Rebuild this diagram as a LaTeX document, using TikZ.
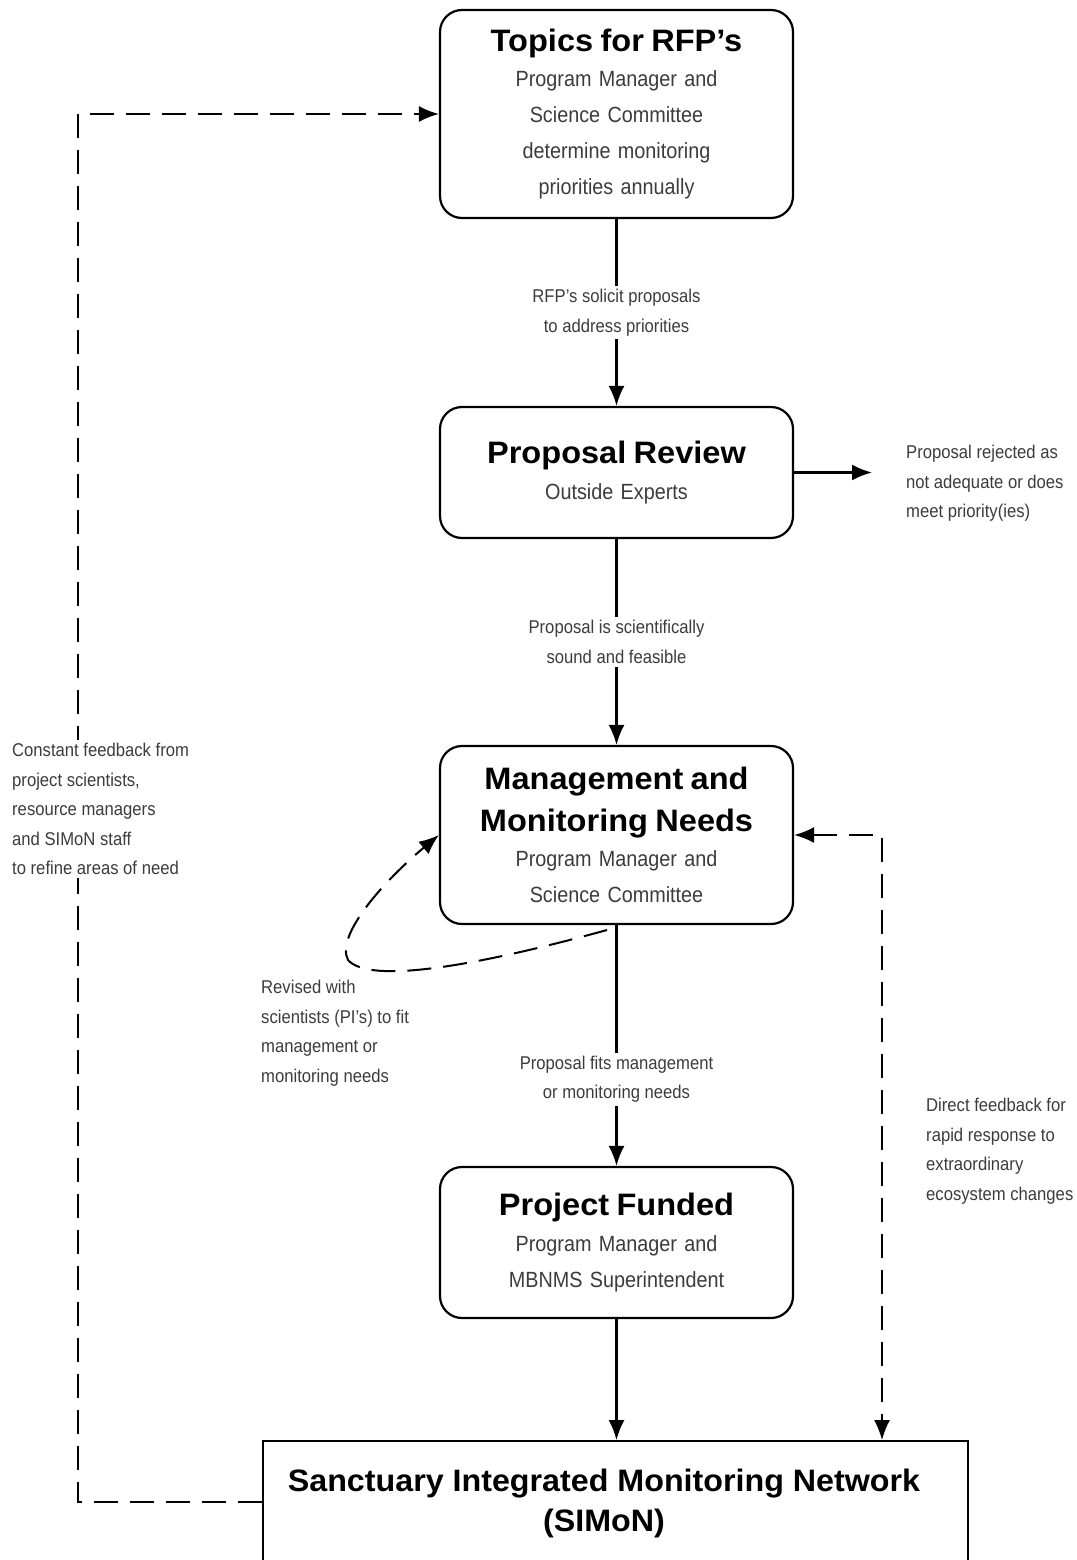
\documentclass[tikz,border=0pt]{standalone}
\usepackage{fontspec}
\setmainfont{Liberation Sans}
\newfontfamily\condf[FakeStretch=0.9]{Liberation Sans}
\newfontfamily\titlef[FakeStretch=1.05]{Liberation Sans Bold}
\newfontfamily\simonf[FakeStretch=1.04]{Liberation Sans Bold}
\usetikzlibrary{arrows.meta,calc}
\definecolor{bodygray}{RGB}{60,60,60}
\newcommand\bodyfnt{\condf\fontsize{22}{36}\selectfont}
\newcommand\labfnt{\condf\fontsize{18.5}{29.5}\selectfont}
\newcommand\ttl[1]{{\color{black}\titlef\fontsize{31}{36}\selectfont #1}}
\newcommand\sttl[1]{{\color{black}\simonf\fontsize{31}{36}\selectfont #1}}
\begin{document}
\begin{tikzpicture}[x=1pt,y=-1pt,
  box/.style={draw, line width=2.2pt, rounded corners=22pt, minimum width=353pt,
    text width=345pt, align=center, inner sep=0pt, font=\bodyfnt, text=bodygray},
  tip/.style={-{Latex[length=20pt,width=16pt]}},
  arr/.style={line width=2.2pt, tip},
  dsh/.style={line width=2pt, dash pattern=on 24pt off 12pt},
  lab/.style={font=\labfnt, text=bodygray, align=center, fill=white, inner sep=3pt},
  note/.style={font=\labfnt, text=bodygray, align=left, inner sep=0pt, anchor=north west}]
\useasboundingbox (0,0) rectangle (1076,1560);
\clip (0,0) rectangle (1076,1560);
\fill[white] (0,0) rectangle (1076,1560);

% boxes
\node[box, minimum height=208pt] (topics) at (616.5,114)
  {\ttl{Topics for RFP’s}\\[-1pt]Program Manager and\\Science Committee\\determine monitoring\\priorities annually};
\node[box, minimum height=131pt] (proposal) at (616.5,472.5)
  {\ttl{Proposal Review}\\Outside Experts};
\node[box, minimum height=178pt] (mgmt) at (616.5,835)
  {\ttl{Management and}\\[6pt]\ttl{Monitoring Needs}\\[-1pt]Program Manager and\\Science Committee};
\node[box, minimum height=151pt] (funded) at (616.5,1242.5)
  {\ttl{Project Funded}\\Program Manager and\\MBNMS Superintendent};
\node[draw, line width=1.8pt, minimum width=705pt, minimum height=122pt, inner sep=0pt] (simon) at (615.5,1502) {};
\node[align=center, inner sep=0pt] (simontext) at (604,1503)
  {\sttl{Sanctuary Integrated Monitoring Network}\\[10pt]\sttl{(SIMoN)}};

% main flow
\draw[arr] (topics) -- node[lab] {RFP’s solicit proposals\\to address priorities} (proposal);
\draw[arr] (proposal) -- node[lab] {Proposal is scientifically\\sound and feasible} (mgmt);
\draw[arr] (mgmt) -- node[lab, pos=0.64] {Proposal fits management\\or monitoring needs} (funded);
\draw[arr] (funded) -- (funded |- simon.north);

% rejection
\coordinate (rejtip) at (872,472.5);
\draw[arr] (proposal.east) -- (rejtip);
\node[note] (rej) at (906,445) {Proposal rejected as\\not adequate or does\\meet priority(ies)};

% left feedback loop
\coordinate (lc1) at (78,1502);
\coordinate (lc2) at (78,114);
\draw[dsh, tip] (simon.west) -- (lc1) -- (lc2) -- (topics.west);
\node[note, fill=white, inner sep=3pt] (constfb) at (9,740)
  {Constant feedback from\\project scientists,\\resource managers\\and SIMoN staff\\to refine areas of need};

% right feedback
\coordinate (rc) at (882,835);
\draw[dsh, {Latex[length=20pt,width=16pt]}-{Latex[length=20pt,width=16pt]}] (mgmt.east) -- (rc) -- (rc |- simon.north);
\node[note] (directfb) at (926,1098)
  {Direct feedback for\\rapid response to\\extraordinary\\ecosystem changes};

% revision loop
\coordinate (ls) at (607,930);
\draw[dsh, tip] (ls) .. controls (480,965) and (370,985) .. (348,960)
  .. controls (335,935) and (385,880) .. (mgmt.west);
\node[note] (revised) at (261,980)
  {Revised with\\scientists (PI’s) to fit\\management or\\monitoring needs};
\end{tikzpicture}
\end{document}
